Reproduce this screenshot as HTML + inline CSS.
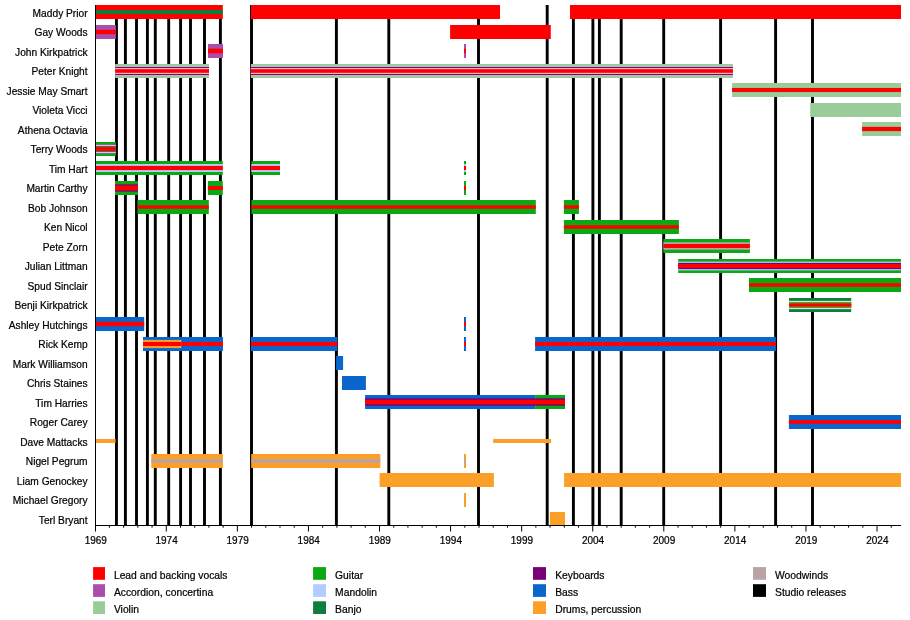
<!DOCTYPE html>
<html lang="en"><head><meta charset="utf-8"><title>Steeleye Span timeline</title>
<style>html,body{margin:0;padding:0;background:#fff}svg{display:block}text{stroke:#000;stroke-width:.22px}</style></head>
<body>
<svg width="910" height="620" viewBox="0 0 910 620" font-family="'Liberation Sans', Arial, sans-serif" font-size="10.8px" fill="#000">
<rect width="910" height="620" fill="#fff"/>
<rect x="115.00" y="5.00" width="2.9" height="520.50" fill="#000"/>
<rect x="123.95" y="5.00" width="2.9" height="520.50" fill="#000"/>
<rect x="135.05" y="5.00" width="2.9" height="520.50" fill="#000"/>
<rect x="145.95" y="5.00" width="2.9" height="520.50" fill="#000"/>
<rect x="153.85" y="5.00" width="2.9" height="520.50" fill="#000"/>
<rect x="167.25" y="5.00" width="2.9" height="520.50" fill="#000"/>
<rect x="179.15" y="5.00" width="2.9" height="520.50" fill="#000"/>
<rect x="189.05" y="5.00" width="2.9" height="520.50" fill="#000"/>
<rect x="203.05" y="5.00" width="2.9" height="520.50" fill="#000"/>
<rect x="218.95" y="5.00" width="2.9" height="520.50" fill="#000"/>
<rect x="250.05" y="5.00" width="2.9" height="520.50" fill="#000"/>
<rect x="334.95" y="5.00" width="2.9" height="520.50" fill="#000"/>
<rect x="387.35" y="5.00" width="2.9" height="520.50" fill="#000"/>
<rect x="477.05" y="5.00" width="2.9" height="520.50" fill="#000"/>
<rect x="545.75" y="5.00" width="2.9" height="520.50" fill="#000"/>
<rect x="571.95" y="5.00" width="2.9" height="520.50" fill="#000"/>
<rect x="591.45" y="5.00" width="2.9" height="520.50" fill="#000"/>
<rect x="597.95" y="5.00" width="2.9" height="520.50" fill="#000"/>
<rect x="619.75" y="5.00" width="2.9" height="520.50" fill="#000"/>
<rect x="662.25" y="5.00" width="2.9" height="520.50" fill="#000"/>
<rect x="719.15" y="5.00" width="2.9" height="520.50" fill="#000"/>
<rect x="774.15" y="5.00" width="2.9" height="520.50" fill="#000"/>
<rect x="811.05" y="5.00" width="2.9" height="520.50" fill="#000"/>
<rect x="95.00" y="5.00" width="127.80" height="14.00" fill="#fe0000"/>
<rect x="95.00" y="10.00" width="127.80" height="4.00" fill="#0f7d3c"/>
<rect x="251.00" y="5.00" width="249.00" height="14.00" fill="#fe0000"/>
<rect x="570.00" y="5.00" width="331.00" height="14.00" fill="#fe0000"/>
<rect x="95.00" y="25.00" width="20.90" height="14.00" fill="#ab4dab"/>
<rect x="95.00" y="29.80" width="20.90" height="4.40" fill="#fe0000"/>
<rect x="450.10" y="25.00" width="100.70" height="14.00" fill="#fe0000"/>
<rect x="208.00" y="44.00" width="15.00" height="14.00" fill="#ab4dab"/>
<rect x="208.00" y="48.70" width="15.00" height="4.60" fill="#fe0000"/>
<rect x="464.00" y="44.00" width="2.00" height="14.00" fill="#ab4dab"/>
<rect x="464.00" y="48.70" width="2.00" height="4.60" fill="#fe0000"/>
<rect x="115.20" y="64.00" width="93.80" height="14.00" fill="#99cc99"/>
<rect x="115.20" y="65.90" width="93.80" height="10.20" fill="#c9bcd6"/>
<rect x="115.20" y="66.95" width="93.80" height="8.10" fill="#6a0f62"/>
<rect x="115.20" y="68.00" width="93.80" height="6.00" fill="#ffaec6"/>
<rect x="115.20" y="69.20" width="93.80" height="3.60" fill="#fe0000"/>
<rect x="250.90" y="64.00" width="482.00" height="14.00" fill="#99cc99"/>
<rect x="250.90" y="65.90" width="482.00" height="10.20" fill="#c9bcd6"/>
<rect x="250.90" y="66.95" width="482.00" height="8.10" fill="#6a0f62"/>
<rect x="250.90" y="68.00" width="482.00" height="6.00" fill="#ffaec6"/>
<rect x="250.90" y="69.20" width="482.00" height="3.60" fill="#fe0000"/>
<rect x="732.10" y="83.00" width="168.90" height="14.00" fill="#99cc99"/>
<rect x="732.10" y="87.95" width="168.90" height="4.10" fill="#fe0000"/>
<rect x="810.20" y="103.00" width="90.80" height="14.00" fill="#99cc99"/>
<rect x="862.10" y="122.00" width="38.90" height="14.00" fill="#99cc99"/>
<rect x="862.10" y="126.85" width="38.90" height="4.30" fill="#fe0000"/>
<rect x="95.00" y="142.00" width="20.80" height="14.00" fill="#0aa812"/>
<rect x="95.00" y="144.30" width="20.80" height="9.40" fill="#4a5a9a"/>
<rect x="95.00" y="144.80" width="20.80" height="8.40" fill="#eab8f0"/>
<rect x="95.00" y="146.10" width="20.80" height="5.80" fill="#7a4a28"/>
<rect x="95.00" y="147.40" width="20.80" height="3.20" fill="#fe0000"/>
<rect x="95.00" y="161.00" width="127.80" height="14.00" fill="#0aa812"/>
<rect x="95.00" y="164.00" width="127.80" height="8.00" fill="#b3ccff"/>
<rect x="95.00" y="165.90" width="127.80" height="4.20" fill="#fe0000"/>
<rect x="251.40" y="161.00" width="28.60" height="14.00" fill="#0aa812"/>
<rect x="251.40" y="164.00" width="28.60" height="8.00" fill="#b3ccff"/>
<rect x="251.40" y="165.90" width="28.60" height="4.20" fill="#fe0000"/>
<rect x="464.00" y="161.00" width="2.00" height="14.00" fill="#0aa812"/>
<rect x="464.00" y="164.00" width="2.00" height="8.00" fill="#b3ccff"/>
<rect x="464.00" y="165.90" width="2.00" height="4.20" fill="#fe0000"/>
<rect x="115.00" y="181.00" width="23.00" height="14.00" fill="#0aa812"/>
<rect x="115.00" y="184.35" width="23.00" height="7.30" fill="#7a007a"/>
<rect x="115.00" y="185.60" width="23.00" height="4.80" fill="#fe0000"/>
<rect x="207.90" y="181.00" width="14.90" height="14.00" fill="#0aa812"/>
<rect x="207.90" y="186.00" width="14.90" height="4.00" fill="#fe0000"/>
<rect x="464.00" y="181.00" width="2.00" height="14.00" fill="#0aa812"/>
<rect x="464.00" y="186.00" width="2.00" height="4.00" fill="#fe0000"/>
<rect x="137.50" y="200.00" width="71.30" height="14.00" fill="#0aa812"/>
<rect x="137.50" y="205.25" width="71.30" height="3.50" fill="#fe0000"/>
<rect x="251.40" y="200.00" width="284.40" height="14.00" fill="#0aa812"/>
<rect x="251.40" y="205.25" width="284.40" height="3.50" fill="#fe0000"/>
<rect x="563.90" y="200.00" width="15.00" height="14.00" fill="#0aa812"/>
<rect x="563.90" y="205.25" width="15.00" height="3.50" fill="#fe0000"/>
<rect x="563.90" y="220.00" width="115.00" height="14.00" fill="#0aa812"/>
<rect x="563.90" y="225.25" width="115.00" height="3.50" fill="#fe0000"/>
<rect x="663.40" y="239.00" width="86.50" height="14.00" fill="#0aa812"/>
<rect x="663.40" y="242.25" width="86.50" height="7.50" fill="#b9a3a5"/>
<rect x="663.40" y="244.00" width="86.50" height="4.00" fill="#fe0000"/>
<rect x="678.20" y="259.00" width="222.80" height="14.00" fill="#0aa812"/>
<rect x="678.20" y="261.60" width="222.80" height="8.80" fill="#b3ccff"/>
<rect x="678.20" y="262.90" width="222.80" height="6.20" fill="#7a007a"/>
<rect x="678.20" y="264.00" width="222.80" height="4.00" fill="#fe0000"/>
<rect x="749.00" y="278.00" width="152.00" height="14.00" fill="#0aa812"/>
<rect x="749.00" y="283.25" width="152.00" height="3.50" fill="#fe0000"/>
<rect x="789.00" y="298.00" width="62.20" height="14.00" fill="#0f7d3c"/>
<rect x="789.00" y="300.85" width="62.20" height="8.30" fill="#c4ecdc"/>
<rect x="789.00" y="302.20" width="62.20" height="5.60" fill="#6f7a0a"/>
<rect x="789.00" y="303.70" width="62.20" height="2.60" fill="#fe0000"/>
<rect x="95.00" y="317.00" width="49.20" height="14.00" fill="#0a66cc"/>
<rect x="95.00" y="321.80" width="49.20" height="4.40" fill="#fe0000"/>
<rect x="464.00" y="317.00" width="2.00" height="14.00" fill="#0a66cc"/>
<rect x="464.00" y="321.80" width="2.00" height="4.40" fill="#fe0000"/>
<rect x="143.10" y="337.00" width="79.90" height="14.00" fill="#0a66cc"/>
<rect x="143.10" y="342.00" width="79.90" height="4.00" fill="#fe0000"/>
<rect x="143.10" y="337.00" width="38.10" height="14.00" fill="#0a66cc"/>
<rect x="143.10" y="339.90" width="38.10" height="8.20" fill="#fb9f28"/>
<rect x="143.10" y="342.00" width="38.10" height="4.00" fill="#fe0000"/>
<rect x="251.00" y="337.00" width="86.20" height="14.00" fill="#0a66cc"/>
<rect x="251.00" y="342.00" width="86.20" height="4.00" fill="#fe0000"/>
<rect x="535.10" y="337.00" width="240.80" height="14.00" fill="#0a66cc"/>
<rect x="535.10" y="342.00" width="240.80" height="4.00" fill="#fe0000"/>
<rect x="464.00" y="337.00" width="2.00" height="14.00" fill="#0a66cc"/>
<rect x="464.00" y="342.00" width="2.00" height="4.00" fill="#fe0000"/>
<rect x="336.10" y="356.00" width="7.00" height="14.00" fill="#0a66cc"/>
<rect x="342.00" y="376.00" width="23.90" height="14.00" fill="#0a66cc"/>
<rect x="365.10" y="395.00" width="170.00" height="14.00" fill="#0a66cc"/>
<rect x="365.10" y="398.25" width="170.00" height="7.50" fill="#7a007a"/>
<rect x="365.10" y="399.75" width="170.00" height="4.50" fill="#fe0000"/>
<rect x="535.10" y="395.00" width="29.90" height="14.00" fill="#0aa812"/>
<rect x="535.10" y="398.25" width="29.90" height="7.50" fill="#7a007a"/>
<rect x="535.10" y="399.75" width="29.90" height="4.50" fill="#fe0000"/>
<rect x="788.90" y="415.00" width="112.10" height="14.00" fill="#0a66cc"/>
<rect x="788.90" y="420.10" width="112.10" height="3.80" fill="#fe0000"/>
<rect x="95.00" y="439.00" width="20.60" height="4.00" fill="#fb9f28"/>
<rect x="493.20" y="439.00" width="57.90" height="4.00" fill="#fb9f28"/>
<rect x="151.30" y="454.00" width="71.60" height="14.00" fill="#fb9f28"/>
<rect x="151.30" y="459.30" width="71.60" height="3.40" fill="#b9a3a5"/>
<rect x="251.20" y="454.00" width="129.10" height="14.00" fill="#fb9f28"/>
<rect x="251.20" y="459.30" width="129.10" height="3.40" fill="#b9a3a5"/>
<rect x="464.00" y="454.00" width="2.00" height="14.00" fill="#fb9f28"/>
<rect x="464.00" y="459.30" width="2.00" height="3.40" fill="#b9a3a5"/>
<rect x="379.60" y="473.00" width="114.30" height="14.00" fill="#fb9f28"/>
<rect x="564.10" y="473.00" width="336.90" height="14.00" fill="#fb9f28"/>
<rect x="464.00" y="493.00" width="2.00" height="14.00" fill="#fb9f28"/>
<rect x="549.90" y="512.00" width="15.10" height="14.00" fill="#fb9f28"/>
<rect x="95" y="5.00" width="1" height="521.00" fill="#000"/>
<rect x="95" y="525.00" width="806" height="1" fill="#000"/>
<rect x="95.00" y="525.50" width="1" height="6" fill="#000"/>
<text x="95.80" y="543.6" text-anchor="middle" textLength="22.25" lengthAdjust="spacingAndGlyphs" font-size="10.2px">1969</text>
<rect x="108.92" y="525.50" width="1" height="2.2" fill="#000"/>
<rect x="123.13" y="525.50" width="1" height="2.2" fill="#000"/>
<rect x="137.34" y="525.50" width="1" height="2.2" fill="#000"/>
<rect x="151.56" y="525.50" width="1" height="2.2" fill="#000"/>
<rect x="165.78" y="525.50" width="1" height="6" fill="#000"/>
<text x="166.58" y="543.6" text-anchor="middle" textLength="22.25" lengthAdjust="spacingAndGlyphs" font-size="10.2px">1974</text>
<rect x="179.99" y="525.50" width="1" height="2.2" fill="#000"/>
<rect x="194.20" y="525.50" width="1" height="2.2" fill="#000"/>
<rect x="208.42" y="525.50" width="1" height="2.2" fill="#000"/>
<rect x="222.63" y="525.50" width="1" height="2.2" fill="#000"/>
<rect x="236.85" y="525.50" width="1" height="6" fill="#000"/>
<text x="237.65" y="543.6" text-anchor="middle" textLength="22.25" lengthAdjust="spacingAndGlyphs" font-size="10.2px">1979</text>
<rect x="251.06" y="525.50" width="1" height="2.2" fill="#000"/>
<rect x="265.28" y="525.50" width="1" height="2.2" fill="#000"/>
<rect x="279.50" y="525.50" width="1" height="2.2" fill="#000"/>
<rect x="293.71" y="525.50" width="1" height="2.2" fill="#000"/>
<rect x="307.93" y="525.50" width="1" height="6" fill="#000"/>
<text x="308.73" y="543.6" text-anchor="middle" textLength="22.25" lengthAdjust="spacingAndGlyphs" font-size="10.2px">1984</text>
<rect x="322.14" y="525.50" width="1" height="2.2" fill="#000"/>
<rect x="336.36" y="525.50" width="1" height="2.2" fill="#000"/>
<rect x="350.57" y="525.50" width="1" height="2.2" fill="#000"/>
<rect x="364.78" y="525.50" width="1" height="2.2" fill="#000"/>
<rect x="379.00" y="525.50" width="1" height="6" fill="#000"/>
<text x="379.80" y="543.6" text-anchor="middle" textLength="22.25" lengthAdjust="spacingAndGlyphs" font-size="10.2px">1989</text>
<rect x="393.21" y="525.50" width="1" height="2.2" fill="#000"/>
<rect x="407.43" y="525.50" width="1" height="2.2" fill="#000"/>
<rect x="421.64" y="525.50" width="1" height="2.2" fill="#000"/>
<rect x="435.86" y="525.50" width="1" height="2.2" fill="#000"/>
<rect x="450.07" y="525.50" width="1" height="6" fill="#000"/>
<text x="450.88" y="543.6" text-anchor="middle" textLength="22.25" lengthAdjust="spacingAndGlyphs" font-size="10.2px">1994</text>
<rect x="464.29" y="525.50" width="1" height="2.2" fill="#000"/>
<rect x="478.50" y="525.50" width="1" height="2.2" fill="#000"/>
<rect x="492.72" y="525.50" width="1" height="2.2" fill="#000"/>
<rect x="506.94" y="525.50" width="1" height="2.2" fill="#000"/>
<rect x="521.15" y="525.50" width="1" height="6" fill="#000"/>
<text x="521.95" y="543.6" text-anchor="middle" textLength="22.25" lengthAdjust="spacingAndGlyphs" font-size="10.2px">1999</text>
<rect x="535.37" y="525.50" width="1" height="2.2" fill="#000"/>
<rect x="549.58" y="525.50" width="1" height="2.2" fill="#000"/>
<rect x="563.79" y="525.50" width="1" height="2.2" fill="#000"/>
<rect x="578.01" y="525.50" width="1" height="2.2" fill="#000"/>
<rect x="592.23" y="525.50" width="1" height="6" fill="#000"/>
<text x="593.02" y="543.6" text-anchor="middle" textLength="22.25" lengthAdjust="spacingAndGlyphs" font-size="10.2px">2004</text>
<rect x="606.44" y="525.50" width="1" height="2.2" fill="#000"/>
<rect x="620.66" y="525.50" width="1" height="2.2" fill="#000"/>
<rect x="634.87" y="525.50" width="1" height="2.2" fill="#000"/>
<rect x="649.09" y="525.50" width="1" height="2.2" fill="#000"/>
<rect x="663.30" y="525.50" width="1" height="6" fill="#000"/>
<text x="664.10" y="543.6" text-anchor="middle" textLength="22.25" lengthAdjust="spacingAndGlyphs" font-size="10.2px">2009</text>
<rect x="677.51" y="525.50" width="1" height="2.2" fill="#000"/>
<rect x="691.73" y="525.50" width="1" height="2.2" fill="#000"/>
<rect x="705.95" y="525.50" width="1" height="2.2" fill="#000"/>
<rect x="720.16" y="525.50" width="1" height="2.2" fill="#000"/>
<rect x="734.38" y="525.50" width="1" height="6" fill="#000"/>
<text x="735.17" y="543.6" text-anchor="middle" textLength="22.25" lengthAdjust="spacingAndGlyphs" font-size="10.2px">2014</text>
<rect x="748.59" y="525.50" width="1" height="2.2" fill="#000"/>
<rect x="762.81" y="525.50" width="1" height="2.2" fill="#000"/>
<rect x="777.02" y="525.50" width="1" height="2.2" fill="#000"/>
<rect x="791.24" y="525.50" width="1" height="2.2" fill="#000"/>
<rect x="805.45" y="525.50" width="1" height="6" fill="#000"/>
<text x="806.25" y="543.6" text-anchor="middle" textLength="22.25" lengthAdjust="spacingAndGlyphs" font-size="10.2px">2019</text>
<rect x="819.67" y="525.50" width="1" height="2.2" fill="#000"/>
<rect x="833.88" y="525.50" width="1" height="2.2" fill="#000"/>
<rect x="848.10" y="525.50" width="1" height="2.2" fill="#000"/>
<rect x="862.31" y="525.50" width="1" height="2.2" fill="#000"/>
<rect x="876.53" y="525.50" width="1" height="6" fill="#000"/>
<text x="877.33" y="543.6" text-anchor="middle" textLength="22.25" lengthAdjust="spacingAndGlyphs" font-size="10.2px">2024</text>
<rect x="890.74" y="525.50" width="1" height="2.2" fill="#000"/>
<text x="87.6" y="16.75" text-anchor="end" textLength="54.99" lengthAdjust="spacingAndGlyphs">Maddy Prior</text>
<text x="87.6" y="35.75" text-anchor="end" textLength="53.10" lengthAdjust="spacingAndGlyphs">Gay Woods</text>
<text x="87.6" y="55.75" text-anchor="end" textLength="72.56" lengthAdjust="spacingAndGlyphs">John Kirkpatrick</text>
<text x="87.6" y="74.75" text-anchor="end" textLength="56.14" lengthAdjust="spacingAndGlyphs">Peter Knight</text>
<text x="87.6" y="94.75" text-anchor="end" textLength="81.05" lengthAdjust="spacingAndGlyphs">Jessie May Smart</text>
<text x="87.6" y="113.75" text-anchor="end" textLength="55.19" lengthAdjust="spacingAndGlyphs">Violeta Vicci</text>
<text x="87.6" y="133.75" text-anchor="end" textLength="69.74" lengthAdjust="spacingAndGlyphs">Athena Octavia</text>
<text x="87.6" y="152.75" text-anchor="end" textLength="57.06" lengthAdjust="spacingAndGlyphs">Terry Woods</text>
<text x="87.6" y="172.75" text-anchor="end" textLength="38.72" lengthAdjust="spacingAndGlyphs">Tim Hart</text>
<text x="87.6" y="191.75" text-anchor="end" textLength="61.22" lengthAdjust="spacingAndGlyphs">Martin Carthy</text>
<text x="87.6" y="211.75" text-anchor="end" textLength="59.55" lengthAdjust="spacingAndGlyphs">Bob Johnson</text>
<text x="87.6" y="230.75" text-anchor="end" textLength="43.66" lengthAdjust="spacingAndGlyphs">Ken Nicol</text>
<text x="87.6" y="250.75" text-anchor="end" textLength="44.79" lengthAdjust="spacingAndGlyphs">Pete Zorn</text>
<text x="87.6" y="269.75" text-anchor="end" textLength="62.93" lengthAdjust="spacingAndGlyphs">Julian Littman</text>
<text x="87.6" y="289.75" text-anchor="end" textLength="60.10" lengthAdjust="spacingAndGlyphs">Spud Sinclair</text>
<text x="87.6" y="308.75" text-anchor="end" textLength="73.13" lengthAdjust="spacingAndGlyphs">Benji Kirkpatrick</text>
<text x="87.6" y="328.75" text-anchor="end" textLength="78.81" lengthAdjust="spacingAndGlyphs">Ashley Hutchings</text>
<text x="87.6" y="347.75" text-anchor="end" textLength="49.31" lengthAdjust="spacingAndGlyphs">Rick Kemp</text>
<text x="87.6" y="367.75" text-anchor="end" textLength="74.81" lengthAdjust="spacingAndGlyphs">Mark Williamson</text>
<text x="87.6" y="386.75" text-anchor="end" textLength="60.66" lengthAdjust="spacingAndGlyphs">Chris Staines</text>
<text x="87.6" y="406.75" text-anchor="end" textLength="52.32" lengthAdjust="spacingAndGlyphs">Tim Harries</text>
<text x="87.6" y="425.75" text-anchor="end" textLength="57.83" lengthAdjust="spacingAndGlyphs">Roger Carey</text>
<text x="87.6" y="445.75" text-anchor="end" textLength="67.46" lengthAdjust="spacingAndGlyphs">Dave Mattacks</text>
<text x="87.6" y="464.75" text-anchor="end" textLength="61.80" lengthAdjust="spacingAndGlyphs">Nigel Pegrum</text>
<text x="87.6" y="484.75" text-anchor="end" textLength="70.87" lengthAdjust="spacingAndGlyphs">Liam Genockey</text>
<text x="87.6" y="503.75" text-anchor="end" textLength="74.83" lengthAdjust="spacingAndGlyphs">Michael Gregory</text>
<text x="87.6" y="523.75" text-anchor="end" textLength="48.75" lengthAdjust="spacingAndGlyphs">Terl Bryant</text>
<rect x="93.10" y="567.10" width="11.90" height="12.7" fill="#fe0000"/>
<text x="113.90" y="578.80" textLength="113.60" lengthAdjust="spacingAndGlyphs">Lead and backing vocals</text>
<rect x="93.10" y="584.20" width="11.90" height="12.7" fill="#ab4dab"/>
<text x="113.90" y="595.90" textLength="99.24" lengthAdjust="spacingAndGlyphs">Accordion, concertina</text>
<rect x="93.10" y="601.30" width="11.90" height="12.7" fill="#99cc99"/>
<text x="113.90" y="613.00" textLength="25.06" lengthAdjust="spacingAndGlyphs">Violin</text>
<rect x="313.10" y="567.10" width="12.90" height="12.7" fill="#0aa812"/>
<text x="335.10" y="578.80" textLength="28.10" lengthAdjust="spacingAndGlyphs">Guitar</text>
<rect x="313.10" y="584.20" width="12.90" height="12.7" fill="#b3ccff"/>
<text x="335.10" y="595.90" textLength="41.88" lengthAdjust="spacingAndGlyphs">Mandolin</text>
<rect x="313.10" y="601.30" width="12.90" height="12.7" fill="#0f7d3c"/>
<text x="335.10" y="613.00" textLength="26.40" lengthAdjust="spacingAndGlyphs">Banjo</text>
<rect x="533.00" y="567.10" width="13.00" height="12.7" fill="#7a007a"/>
<text x="555.20" y="578.80" textLength="49.34" lengthAdjust="spacingAndGlyphs">Keyboards</text>
<rect x="533.00" y="584.20" width="13.00" height="12.7" fill="#0a66cc"/>
<text x="555.20" y="595.90" textLength="22.94" lengthAdjust="spacingAndGlyphs">Bass</text>
<rect x="533.00" y="601.30" width="13.00" height="12.7" fill="#fb9f28"/>
<text x="555.20" y="613.00" textLength="86.03" lengthAdjust="spacingAndGlyphs">Drums, percussion</text>
<rect x="753.00" y="567.10" width="13.00" height="12.7" fill="#b9a3a5"/>
<text x="775.00" y="578.80" textLength="53.16" lengthAdjust="spacingAndGlyphs">Woodwinds</text>
<rect x="753.00" y="584.20" width="13.00" height="12.7" fill="#000"/>
<text x="775.00" y="595.90" textLength="71.14" lengthAdjust="spacingAndGlyphs">Studio releases</text>
</svg>
</body></html>
